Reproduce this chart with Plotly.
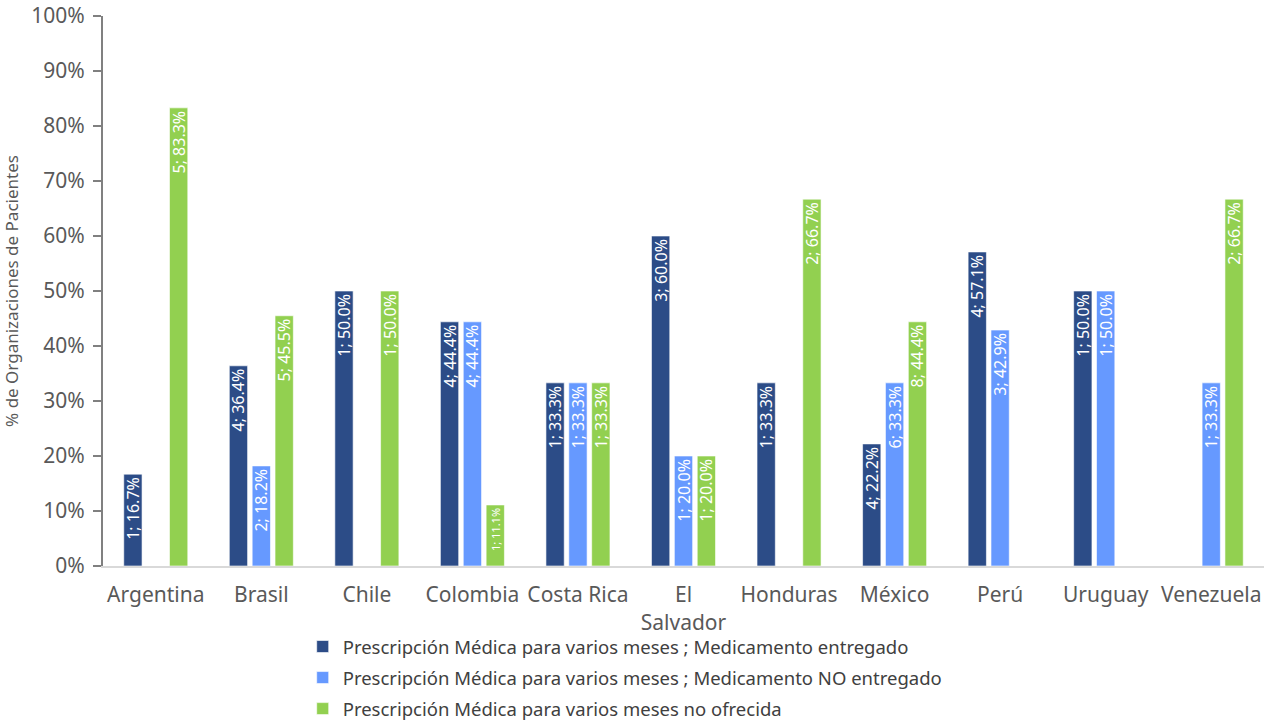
import plotly.graph_objects as go

# Países y categorías de respuesta
paises = ["Argentina", "Brasil", "Chile", "Colombia", "Costa Rica", "El<br>Salvador",
          "Honduras", "México", "Perú", "Uruguay", "Venezuela"]

serie_nombres = [
    "Prescripción Médica para varios meses ; Medicamento entregado",
    "Prescripción Médica para varios meses ; Medicamento NO entregado",
    "Prescripción Médica para varios meses no ofrecida",
]

# Número de organizaciones por país (None = sin respuesta)
n_entregado = [1, 4, 1, 4, 1, 3, 1, 4, 4, 1, None]
n_no_entregado = [None, 2, None, 4, 1, 1, None, 6, 3, 1, 1]
n_no_ofrecida = [5, 5, 1, 1, 1, 1, 2, 8, None, None, 2]

# Porcentaje de organizaciones por país
pct_entregado = [16.7, 36.4, 50.0, 44.4, 33.3, 60.0, 33.3, 22.2, 57.1, 50.0, None]
pct_no_entregado = [None, 18.2, None, 44.4, 33.3, 20.0, None, 33.3, 42.9, 50.0, 33.3]
pct_no_ofrecida = [83.3, 45.5, 50.0, 11.1, 33.3, 20.0, 66.7, 44.4, None, None, 66.7]

colores = ["#2C4C87", "#6699FF", "#92D050"]

series = [
    (n_entregado, pct_entregado),
    (n_no_entregado, pct_no_entregado),
    (n_no_ofrecida, pct_no_ofrecida),
]

FONT = "Noto Sans"

fig = go.Figure()
for i, (nombre, color, (conteos, pcts)) in enumerate(zip(serie_nombres, colores, series)):
    etiquetas = [f"{n}; {p:.1f}%" if p is not None else "" for n, p in zip(conteos, pcts)]
    # barras muy cortas llevan la etiqueta en letra más pequeña
    tamanos = [11 if (p is not None and p < 12) else 16 for p in pcts]
    fig.add_trace(go.Bar(
        x=paises,
        y=[p / 100 if p is not None else None for p in pcts],
        name=nombre,
        legendgroup=f"g{i}",
        marker=dict(color=color, line=dict(color="rgba(255,255,255,0.6)", width=1)),
        text=etiquetas,
        textposition="inside",
        insidetextanchor="end",
        textangle=-90,
        constraintext="none",
        insidetextfont=dict(color="white", size=tamanos, family=FONT),
        hoverinfo="skip",
    ))

fig.update_layout(
    width=1271,
    height=721,
    barmode="group",
    bargap=0.35,
    bargroupgap=0.2,
    plot_bgcolor="white",
    paper_bgcolor="white",
    margin=dict(l=103, r=7, t=16, b=155, autoexpand=False),
    font=dict(family=FONT, color="#595959", size=18),
    legend=dict(
        orientation="v",
        x=0.172, xanchor="left",
        y=-0.1127, yanchor="top",
        bgcolor="rgba(0,0,0,0)",
        font=dict(size=18.5, color="#404040", family=FONT),
        traceorder="grouped",
        tracegroupgap=4,
        itemwidth=30,
        maxheight=300,
    ),
    xaxis=dict(
        showline=True,
        linecolor="#D9D9D9",
        linewidth=2,
        ticks="",
        ticklabelstandoff=9,
        tickfont=dict(size=21, color="#595959"),
        showgrid=False,
    ),
    yaxis=dict(
        range=[0, 1],
        tickformat=".0%",
        dtick=0.1,
        showline=True,
        linecolor="#808080",
        linewidth=2,
        ticks="outside",
        ticklen=8,
        tickcolor="#808080",
        tickwidth=2,
        showgrid=False,
        zeroline=False,
        ticklabelstandoff=4,
        tickfont=dict(size=21, color="#595959"),
        title=dict(text="% de Organizaciones de Pacientes",
                   font=dict(size=17, color="#595959"), standoff=9),
    ),
)

fig.write_html("out.html")
